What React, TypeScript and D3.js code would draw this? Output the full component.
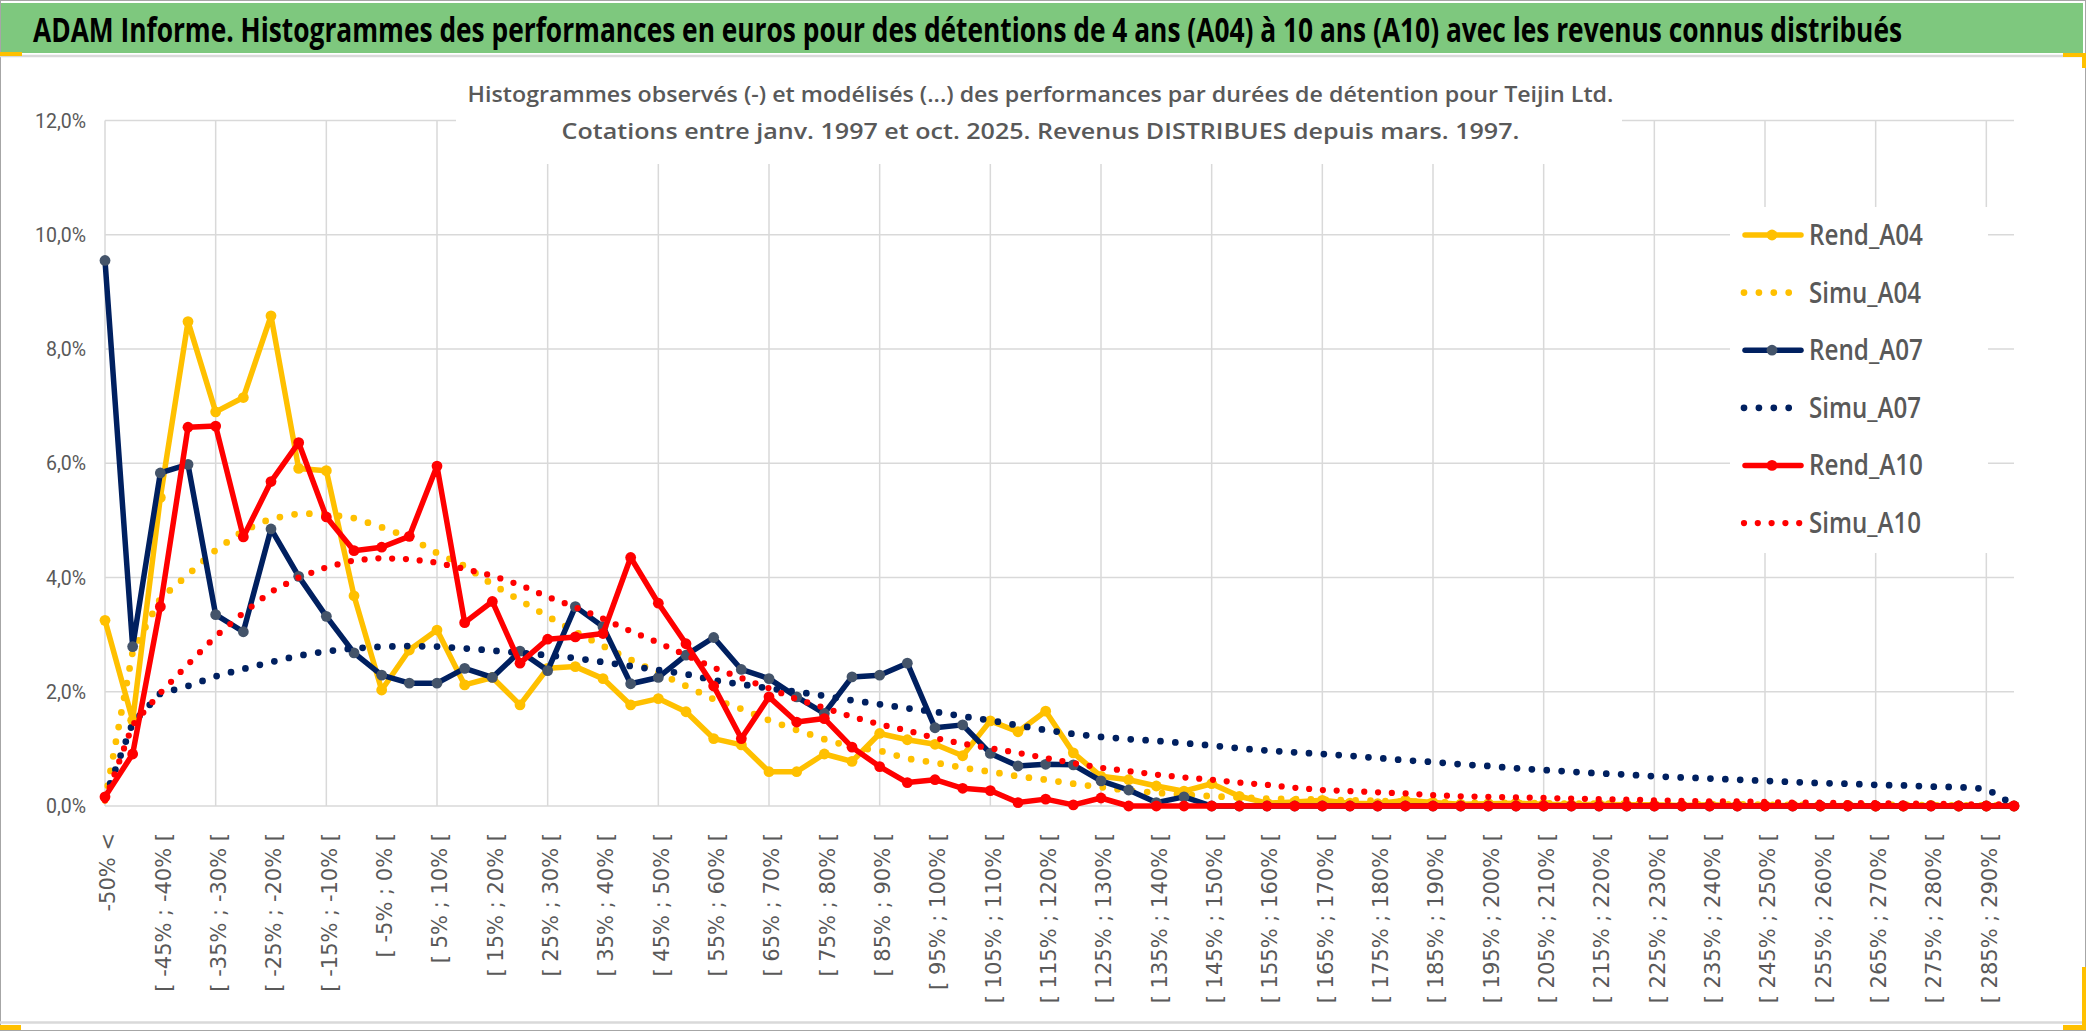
import { useLayoutEffect, useRef, useState } from "react";
import * as d3 from "d3";

document.body.style.margin = "0";

// Catégories de performance (70 classes)
const categories = [
  "-50% <", "[ -50% ; -45% [", "[ -45% ; -40% [", "[ -40% ; -35% [", "[ -35% ; -30% [",
  "[ -30% ; -25% [", "[ -25% ; -20% [", "[ -20% ; -15% [", "[ -15% ; -10% [", "[ -10% ; -5% [",
  "[ -5% ; 0% [", "[ 0% ; 5% [", "[ 5% ; 10% [", "[ 10% ; 15% [", "[ 15% ; 20% [",
  "[ 20% ; 25% [", "[ 25% ; 30% [", "[ 30% ; 35% [", "[ 35% ; 40% [", "[ 40% ; 45% [",
  "[ 45% ; 50% [", "[ 50% ; 55% [", "[ 55% ; 60% [", "[ 60% ; 65% [", "[ 65% ; 70% [",
  "[ 70% ; 75% [", "[ 75% ; 80% [", "[ 80% ; 85% [", "[ 85% ; 90% [", "[ 90% ; 95% [",
  "[ 95% ; 100% [", "[ 100% ; 105% [", "[ 105% ; 110% [", "[ 110% ; 115% [", "[ 115% ; 120% [",
  "[ 120% ; 125% [", "[ 125% ; 130% [", "[ 130% ; 135% [", "[ 135% ; 140% [", "[ 140% ; 145% [",
  "[ 145% ; 150% [", "[ 150% ; 155% [", "[ 155% ; 160% [", "[ 160% ; 165% [", "[ 165% ; 170% [",
  "[ 170% ; 175% [", "[ 175% ; 180% [", "[ 180% ; 185% [", "[ 185% ; 190% [", "[ 190% ; 195% [",
  "[ 195% ; 200% [", "[ 200% ; 205% [", "[ 205% ; 210% [", "[ 210% ; 215% [", "[ 215% ; 220% [",
  "[ 220% ; 225% [", "[ 225% ; 230% [", "[ 230% ; 235% [", "[ 235% ; 240% [", "[ 240% ; 245% [",
  "[ 245% ; 250% [", "[ 250% ; 255% [", "[ 255% ; 260% [", "[ 260% ; 265% [", "[ 265% ; 270% [",
  "[ 270% ; 275% [", "[ 275% ; 280% [", "[ 280% ; 285% [", "[ 285% ; 290% [", "[ 290% ; 295% [",
];

// valeurs en %
const rendA04 = [
  3.25, 1.5, 5.4, 8.48, 6.9, 7.15, 8.58, 5.91, 5.87, 3.68,
  2.03, 2.73, 3.08, 2.12, 2.25, 1.77, 2.41, 2.44, 2.23, 1.77,
  1.88, 1.65, 1.18, 1.07, 0.6, 0.6, 0.91, 0.78, 1.27, 1.16,
  1.08, 0.88, 1.49, 1.3, 1.66, 0.93, 0.52, 0.46, 0.35, 0.26,
  0.39, 0.17, 0.05, 0.07, 0.1, 0.05, 0.04, 0.1, 0.06, 0.03,
  0.04, 0.05, 0.03, 0.02, 0.03, 0.02, 0.02, 0.01, 0.02, 0.01,
  0.01, 0.01, 0, 0.01, 0, 0, 0.01, 0, 0, 0,
];
const simuA04 = [
  0.1, 2.7, 3.63, 4.05, 4.48, 4.82, 5.03, 5.12, 5.11, 5.04,
  4.88, 4.7, 4.43, 4.2, 3.88, 3.6, 3.32, 3.05, 2.8, 2.56,
  2.33, 2.1, 1.87, 1.7, 1.5, 1.33, 1.17, 1.03, 0.97, 0.83,
  0.76, 0.67, 0.6, 0.52, 0.46, 0.39, 0.33, 0.27, 0.23, 0.2,
  0.17, 0.15, 0.13, 0.12, 0.11, 0.1, 0.09, 0.08, 0.07, 0.06,
  0.06, 0.05, 0.05, 0.04, 0.04, 0.04, 0.03, 0.03, 0.03, 0.03,
  0.02, 0.02, 0.02, 0.02, 0.02, 0.02, 0.01, 0.01, 0.01, 0.01,
];
const rendA07 = [
  9.55, 2.79, 5.83, 5.98, 3.35, 3.05, 4.85, 4.02, 3.32, 2.68,
  2.29, 2.15, 2.15, 2.41, 2.25, 2.71, 2.37, 3.49, 3.14, 2.14,
  2.25, 2.64, 2.95, 2.39, 2.23, 1.91, 1.62, 2.26, 2.29, 2.5,
  1.37, 1.42, 0.92, 0.7, 0.73, 0.72, 0.44, 0.28, 0.06, 0.16,
  0, 0, 0, 0, 0, 0, 0, 0, 0, 0,
  0, 0, 0, 0, 0, 0, 0, 0, 0, 0,
  0, 0, 0, 0, 0, 0, 0, 0, 0, 0,
];
const simuA07 = [
  0.15, 1.45, 1.97, 2.1, 2.27, 2.4, 2.52, 2.63, 2.71, 2.76,
  2.79, 2.8, 2.79, 2.76, 2.72, 2.68, 2.64, 2.59, 2.52, 2.45,
  2.38, 2.31, 2.2, 2.13, 2.06, 2.0, 1.93, 1.85, 1.78, 1.71,
  1.65, 1.57, 1.5, 1.41, 1.33, 1.26, 1.21, 1.17, 1.14, 1.1,
  1.06, 1.01, 0.97, 0.94, 0.91, 0.88, 0.84, 0.8, 0.77, 0.73,
  0.7, 0.66, 0.63, 0.6, 0.57, 0.55, 0.52, 0.5, 0.48, 0.46,
  0.44, 0.42, 0.4, 0.39, 0.37, 0.36, 0.34, 0.33, 0.3, 0.02,
];
const rendA10 = [
  0.16, 0.91, 3.49, 6.63, 6.65, 4.71, 5.68, 6.36, 5.06, 4.47,
  4.53, 4.72, 5.95, 3.21, 3.58, 2.5, 2.92, 2.96, 3.02, 4.35,
  3.55, 2.84, 2.1, 1.18, 1.91, 1.47, 1.53, 1.03, 0.69, 0.41,
  0.46, 0.31, 0.27, 0.06, 0.12, 0.02, 0.14, 0, 0, 0,
  0, 0, 0, 0, 0, 0, 0, 0, 0, 0,
  0, 0, 0, 0, 0, 0, 0, 0, 0, 0,
  0, 0, 0, 0, 0, 0, 0, 0, 0, 0,
];
const simuA10 = [
  0.1, 1.42, 1.98, 2.48, 2.97, 3.38, 3.75, 4.0, 4.18, 4.3,
  4.34, 4.32, 4.26, 4.15, 4.03, 3.87, 3.66, 3.48, 3.28, 3.06,
  2.86, 2.64, 2.42, 2.24, 2.06, 1.87, 1.72, 1.56, 1.43, 1.32,
  1.19, 1.09, 1.01, 0.93, 0.84, 0.75, 0.67, 0.61, 0.55, 0.5,
  0.46, 0.41, 0.37, 0.32, 0.28, 0.26, 0.24, 0.22, 0.19, 0.17,
  0.16, 0.15, 0.14, 0.13, 0.12, 0.11, 0.1, 0.09, 0.08, 0.08,
  0.07, 0.06, 0.06, 0.05, 0.05, 0.04, 0.04, 0.03, 0.03, 0.03,
];

const yTicks = [0, 2, 4, 6, 8, 10, 12];

const title = "ADAM Informe. Histogrammes des performances en euros pour des détentions de 4 ans (A04) à 10 ans (A10) avec les revenus connus distribués";
const subtitle1 = "Histogrammes observés (-) et modélisés (...) des performances par durées de détention pour Teijin Ltd.";
const subtitle2 = "Cotations entre janv. 1997 et oct. 2025. Revenus DISTRIBUES depuis mars. 1997.";

type S = { name: string; values: number[]; color: string; dotted: boolean; marker?: string; width: number; dash?: string };
const series: S[] = [
  { name: "Rend_A04", values: rendA04, color: "#FFC000", dotted: false, marker: "#FFC000", width: 5.5 },
  { name: "Simu_A04", values: simuA04, color: "#FFC000", dotted: true, width: 6.75, dash: "0 14.9" },
  { name: "Rend_A07", values: rendA07, color: "#002060", dotted: false, marker: "#44546A", width: 5.5 },
  { name: "Simu_A07", values: simuA07, color: "#002060", dotted: true, width: 6.75, dash: "0 14.9" },
  { name: "Rend_A10", values: rendA10, color: "#FF0000", dotted: false, marker: "#FF0000", width: 5.5 },
  { name: "Simu_A10", values: simuA10, color: "#FF0000", dotted: true, width: 6.25, dash: "0 13.8" },
];

const W = 2086, H = 1033;
const grid = "#d9d9d9";
const textGray = "#595959";

// texte compressé horizontalement pour tenir dans une largeur cible (police étroite type Calibri absente)
function FitText({ x, y, width, anchor = "start", children, ...rest }: any) {
  const ref = useRef<SVGTextElement>(null);
  const [k, setK] = useState(1);
  useLayoutEffect(() => {
    if (!ref.current) return;
    const len = ref.current.getComputedTextLength();
    if (len > 0) setK(width / len);
  }, [width, children]);
  return (
    <g transform={`translate(${x},${y}) scale(${k},1)`}>
      <text ref={ref} x={0} y={0} textAnchor={anchor} {...rest}>{children}</text>
    </g>
  );
}

export default function App() {
  const x = d3.scalePoint<string>().domain(categories).range([105, 2014]);
  const y = d3.scaleLinear().domain([0, 12]).range([806, 120.5]);
  const line = d3.line<number>().x((_, i) => x(categories[i])!).y((d) => y(d));

  const legendX = 1742, legendY0 = 235, legendStep = 57.6;

  return (
    <svg width={W} height={H} style={{ display: "block", background: "#fff" }}>
      {/* cadre + bandeau titre */}
      <rect x={0.5} y={0.5} width={W - 1} height={H - 3} fill="#fff" stroke="#a6a6a6" />
      <rect x={1} y={3} width={2082} height={50} fill="#7ec87e" />
      <line x1={0} x2={W} y1={56} y2={56} stroke={grid} strokeWidth={2.5} />
      <line x1={0} x2={W} y1={1022.5} y2={1022.5} stroke={grid} strokeWidth={2.5} />
      <FitText x={33} y={42} width={1870} fontFamily="Open Sans, sans-serif" fontWeight={700} fontSize={34} fill="#000">{title}</FitText>
      {/* poignées de sélection */}
      <rect x={0} y={52} width={22} height={4} fill="#FFC000" />
      <rect x={2063} y={53} width={23} height={4} fill="#FFC000" />
      <rect x={2082} y={53} width={4} height={15} fill="#FFC000" />
      <rect x={2082} y={967} width={4} height={63} fill="#FFC000" />
      <rect x={2063} y={1025} width={23} height={5} fill="#FFC000" />
      <rect x={0} y={1025} width={21} height={5} fill="#FFC000" />

      {/* grille */}
      {yTicks.map((t) => (
        <line key={`h${t}`} x1={x(categories[0])} x2={x(categories[categories.length - 1])} y1={y(t)} y2={y(t)} stroke={grid} strokeWidth={1.5} />
      ))}
      {categories.map((c, i) => i % 4 === 0 && (
        <line key={`v${i}`} x1={x(c)} x2={x(c)} y1={y(12)} y2={y(0)} stroke={grid} strokeWidth={1.5} />
      ))}

      {/* axe Y */}
      {yTicks.map((t) => (
        <text key={`yl${t}`} x={86} y={y(t)} dy="0.36em" textAnchor="end" fontFamily="Roboto, sans-serif" fontSize={19.5} fill={textGray}>
          {t.toFixed(1).replace(".", ",") + "%"}
        </text>
      ))}

      {/* axe X */}
      {categories.map((c, i) => i % 2 === 0 && (
        <text key={`xl${i}`} transform={`translate(${x(c)! + 3},833) rotate(-90)`} dy="0.35em" textAnchor="end"
          fontFamily="DejaVu Sans, sans-serif" fontSize={21} fill={textGray}>{c}</text>
      ))}

      {/* séries */}
      {series.map((s) => (
        <g key={s.name}>
          <path d={line(s.values) ?? ""} fill="none" stroke={s.color} strokeWidth={s.width}
            strokeLinejoin="round" strokeLinecap="round" strokeDasharray={s.dash} />
          {s.marker && s.values.map((v, i) => (
            <circle key={i} cx={x(categories[i])} cy={y(v)} r={5.4} fill={s.marker} />
          ))}
        </g>
      ))}

      {/* sous-titre */}
      <rect x={456} y={78} width={1166} height={86} fill="#fff" />
      <FitText x={1040.5} y={101.7} width={1147} anchor="middle" fontFamily="Open Sans, sans-serif" fontWeight={600} fontSize={21} fill={textGray}>{subtitle1}</FitText>
      <FitText x={1040.5} y={139} width={958} anchor="middle" fontFamily="Open Sans, sans-serif" fontWeight={600} fontSize={21} fill={textGray}>{subtitle2}</FitText>

      {/* légende */}
      <rect x={1730} y={207} width={258} height={346} fill="#fff" />
      {series.map((s, k) => {
        const cy = legendY0 + k * legendStep;
        return (
          <g key={`lg${s.name}`}>
            {s.dotted ? (
              <line x1={legendX + 2} x2={legendX + 61} y1={cy} y2={cy} stroke={s.color} strokeWidth={s.width}
                strokeLinecap="round" strokeDasharray={s.dash} />
            ) : (
              <>
                <line x1={legendX + 3} x2={legendX + 59} y1={cy} y2={cy} stroke={s.color} strokeWidth={5.5} strokeLinecap="round" />
                <circle cx={legendX + 30} cy={cy} r={5.4} fill={s.marker} />
              </>
            )}
            <FitText x={1809} y={cy + 10} width={s.dotted ? 112 : 114} fontFamily="Open Sans, sans-serif" fontWeight={600} fontSize={29} fill={textGray}>{s.name}</FitText>
          </g>
        );
      })}
    </svg>
  );
}
